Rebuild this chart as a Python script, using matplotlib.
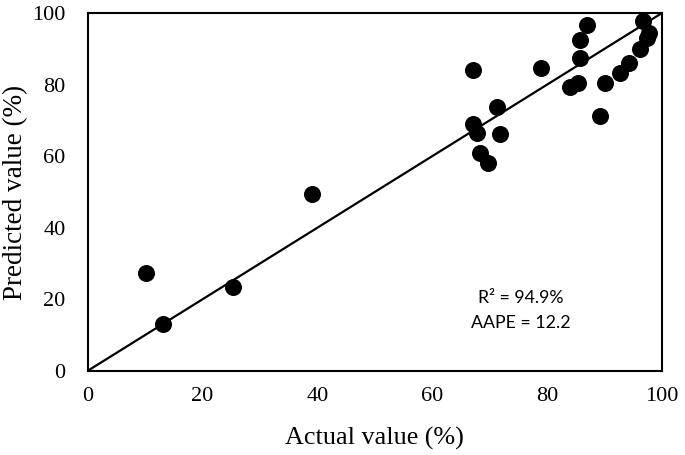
import numpy as np
import matplotlib
matplotlib.use("Agg")
import matplotlib.pyplot as plt

# Actual vs predicted values (%)
actual = [10.1, 13.1, 25.3, 39.0, 67.1, 67.2, 67.9, 68.3, 69.7, 71.3, 71.8,
          78.9, 84.1, 85.5, 85.7, 85.7, 86.9, 89.2, 90.1, 92.7, 94.3, 96.2,
          96.7, 97.5, 97.8]
predicted = [27.4, 13.1, 23.5, 49.4, 84.1, 69.0, 66.5, 60.9, 58.1, 73.7, 66.2,
             84.6, 79.3, 80.4, 87.4, 92.5, 96.6, 71.2, 80.4, 83.2, 86.0, 90.0,
             97.8, 93.2, 94.6]
ticks = [0, 20, 40, 60, 80, 100]
r2_text = "R² = 94.9%"
aape_text = "AAPE = 12.2"

fig = plt.figure(figsize=(6.85, 4.55), dpi=100)
ax = fig.add_axes([0.128, 0.185, 0.838, 0.786])

ax.plot([0, 100], [0, 100], color='black', lw=1.6, zorder=1)
ax.scatter(actual, predicted, s=150, color='black', zorder=2, linewidths=0)

ax.set_xlim(0, 100)
ax.set_ylim(0, 100)
ax.set_xticks(ticks)
ax.set_yticks(ticks)
ax.tick_params(axis='y', length=0, pad=16, labelsize=16)
ax.tick_params(axis='x', length=0, pad=12, labelsize=16)
for lab in ax.get_xticklabels() + ax.get_yticklabels():
    lab.set_fontfamily('Liberation Serif')
for sp in ax.spines.values():
    sp.set_linewidth(1.5)

ax.set_xlabel('Actual value (%)', fontsize=18.8, family='Liberation Serif', labelpad=15)
ax.set_ylabel('Predicted value (%)', fontsize=19.5, family='Liberation Serif', labelpad=3)

ax.text(75.4, 20.3, r2_text, ha='center', va='center', fontsize=12.8, family='Lato')
ax.text(75.4, 13.3, aape_text, ha='center', va='center', fontsize=12.8, family='Lato')

plt.savefig("out.png", dpi=100)
